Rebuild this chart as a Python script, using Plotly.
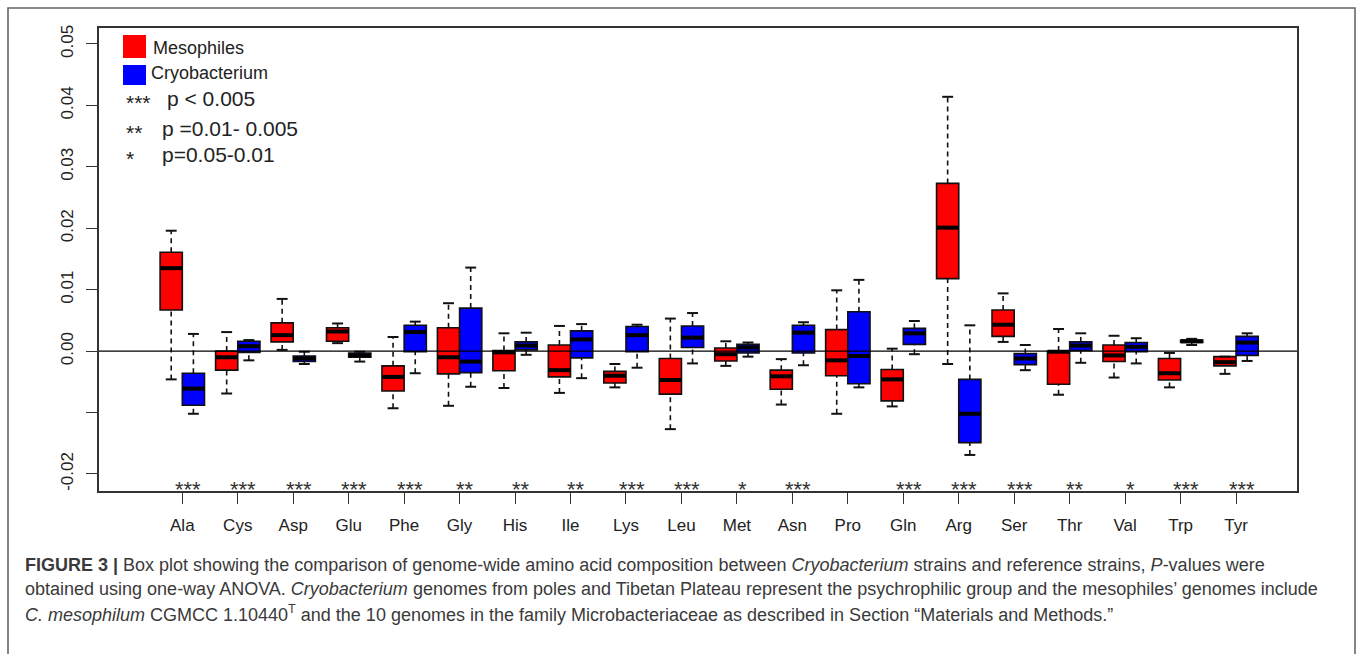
import plotly.graph_objects as go

# Amino acids on the x axis
amino_acids = ["Ala", "Cys", "Asp", "Glu", "Phe", "Gly", "His", "Ile", "Lys", "Leu",
               "Met", "Asn", "Pro", "Gln", "Arg", "Ser", "Thr", "Val", "Trp", "Tyr"]

# Mesophiles: whisker ends, quartiles and medians
meso_low = [-0.0046, -0.0069, 0.0002, 0.0013, -0.0093, -0.0089, -0.0060, -0.0068, -0.0059, -0.0127,
            -0.0024, -0.0087, -0.0102, -0.0090, -0.0021, 0.0015, -0.0071, -0.0043, -0.0059, -0.0037]
meso_q1 = [0.0067, -0.0031, 0.0015, 0.0016, -0.0065, -0.0037, -0.0032, -0.0042, -0.0052, -0.0070,
           -0.0016, -0.0062, -0.0040, -0.0081, 0.0118, 0.0024, -0.0054, -0.0017, -0.0047, -0.0024]
meso_med = [0.0135, -0.0010, 0.0026, 0.0032, -0.0042, -0.0010, -0.0002, -0.0031, -0.0040, -0.0047,
            -0.0005, -0.0041, -0.0015, -0.0046, 0.0201, 0.0043, -0.0001, -0.0007, -0.0036, -0.0018]
meso_q3 = [0.0161, 0.0000, 0.0046, 0.0038, -0.0024, 0.0038, 0.0001, 0.0010, -0.0033, -0.0012,
           0.0005, -0.0031, 0.0035, -0.0030, 0.0273, 0.0067, 0.0000, 0.0010, -0.0012, -0.0009]
meso_high = [0.0196, 0.0031, 0.0085, 0.0045, 0.0023, 0.0078, 0.0029, 0.0041, -0.0021, 0.0053,
             0.0016, -0.0013, 0.0099, 0.0004, 0.0414, 0.0094, 0.0036, 0.0025, -0.0003, -0.0009]

# Cryobacterium: whisker ends, quartiles and medians
cryo_low = [-0.0102, -0.0015, -0.0021, -0.0017, -0.0036, -0.0058, -0.0006, -0.0044, -0.0027, -0.0020,
            -0.0009, -0.0023, -0.0059, -0.0005, -0.0169, -0.0031, -0.0019, -0.0020, 0.0010, -0.0016]
cryo_q1 = [-0.0088, -0.0002, -0.0017, -0.0010, -0.0001, -0.0035, 0.0002, -0.0011, -0.0001, 0.0006,
           -0.0003, -0.0003, -0.0053, 0.0011, -0.0149, -0.0022, 0.0001, -0.0001, 0.0014, -0.0007]
cryo_med = [-0.0061, 0.0008, -0.0012, -0.0007, 0.0031, -0.0017, 0.0009, 0.0019, 0.0026, 0.0022,
            0.0006, 0.0030, -0.0008, 0.0029, -0.0102, -0.0012, 0.0009, 0.0007, 0.0016, 0.0014]
cryo_q3 = [-0.0036, 0.0016, -0.0008, -0.0003, 0.0042, 0.0070, 0.0015, 0.0033, 0.0040, 0.0041,
           0.0011, 0.0042, 0.0064, 0.0037, -0.0046, -0.0004, 0.0015, 0.0014, 0.0018, 0.0024]
cryo_high = [0.0028, 0.0018, -0.0001, -0.0001, 0.0048, 0.0136, 0.0030, 0.0044, 0.0043, 0.0062,
             0.0014, 0.0047, 0.0116, 0.0049, 0.0042, 0.0010, 0.0029, 0.0021, 0.0020, 0.0029]

# One-way ANOVA significance marks
significance = ["***", "***", "***", "***", "***", "**", "**", "**", "***", "***",
                "*", "***", "", "***", "***", "***", "**", "*", "***", "***"]

# labelled y ticks, plus the unlabelled tick between 0.00 and -0.02
y_tick_values = [0.05, 0.04, 0.03, 0.02, 0.01, 0.00, -0.02]
y_tick_labels = ["0.05", "0.04", "0.03", "0.02", "0.01", "0.00", "-0.02"]
y_unlabelled_ticks = [-0.01]

W, H = 1357, 654
L, R, T, B = 99, 1297, 28, 491          # plot frame in pixels
Y_RANGE = [-0.02277, 0.05260]
X_RANGE = [-1.502, 20.099]
OFFSET = 0.2
BOX_W = 0.4
FONT = "Liberation Sans, Arial, sans-serif"


def xp(px):
    return (px - L) / (R - L)


def yp(py):
    return (B - py) / (B - T)


def yval(py):
    return Y_RANGE[0] + (B - py) / (B - T) * (Y_RANGE[1] - Y_RANGE[0])


fig = go.Figure()

groups = [
    ("Mesophiles", -OFFSET, "#ff0000", meso_low, meso_q1, meso_med, meso_q3, meso_high),
    ("Cryobacterium", OFFSET, "#0000ff", cryo_low, cryo_q1, cryo_med, cryo_q3, cryo_high),
]

for name, off, color, low, q1, med, q3, high in groups:
    pos = [i + off for i in range(len(amino_acids))]

    # dashed whiskers
    wx, wy = [], []
    for p, lo, a, b, hi in zip(pos, low, q1, q3, high):
        wx += [p, p, None, p, p, None]
        wy += [b, hi, None, lo, a, None]
    fig.add_trace(go.Scatter(x=wx, y=wy, mode="lines", showlegend=False, hoverinfo="skip",
                             line=dict(color="#111111", width=1.6, dash="5px,4px")))
    # whisker caps (line-ew length is 1.4 x marker size)
    fig.add_trace(go.Scatter(x=pos + pos, y=low + high, mode="markers", showlegend=False,
                             hoverinfo="skip",
                             marker=dict(symbol="line-ew", size=7.8,
                                         line=dict(color="#111111", width=2))))
    # boxes
    fig.add_trace(go.Box(x=pos, q1=q1, median=med, q3=q3, lowerfence=q1, upperfence=q3,
                         name=name, width=BOX_W, whiskerwidth=0, fillcolor=color,
                         line=dict(color="#111111", width=1.6), showlegend=False,
                         boxpoints=False))
    # bold medians
    fig.add_trace(go.Scatter(x=pos, y=med, mode="markers", showlegend=False, hoverinfo="skip",
                             marker=dict(symbol="line-ew", size=15.4,
                                         line=dict(color="#000000", width=4))))

# zero reference line
fig.add_shape(type="line", xref="paper", yref="y", x0=0, x1=1, y0=0, y1=0,
              line=dict(color="#000000", width=1.4), layer="above")

# significance stars
for i, s in enumerate(significance):
    if s:
        fig.add_annotation(x=i + 0.1, y=yval(489), xref="x", yref="y", text=s,
                           showarrow=False, font=dict(family=FONT, size=22, color="#333333"),
                           xanchor="center", yanchor="middle")

# legend block
fig.add_shape(type="rect", xref="paper", yref="paper", x0=xp(123), x1=xp(146),
              y0=yp(35), y1=yp(58), fillcolor="#ff0000", line=dict(width=0))
fig.add_shape(type="rect", xref="paper", yref="paper", x0=xp(123), x1=xp(146),
              y0=yp(65), y1=yp(85), fillcolor="#0000ff", line=dict(width=0))
legend_items = [
    ("Mesophiles", 151, 48, 18),
    ("Cryobacterium", 149, 73, 18),
    ("***", 124, 102, 21),
    ("p < 0.005", 165, 98, 21),
    ("**", 124, 132, 21),
    ("p =0.01- 0.005", 160, 128, 21),
    ("*", 124, 158, 21),
    ("p=0.05-0.01", 160, 155, 21),
]
for txt, x0, yc, size in legend_items:
    fig.add_annotation(x=xp(x0), y=yp(yc), xref="paper", yref="paper", text=txt,
                       showarrow=False, xanchor="left", yanchor="middle",
                       font=dict(family=FONT, size=size, color="#222222"))

# outer figure border
fig.add_shape(type="path", xref="paper", yref="paper",
              path=f"M {xp(8)},{yp(700)} L {xp(8)},{yp(8)} L {xp(1355)},{yp(8)} L {xp(1355)},{yp(700)}",
              line=dict(color="#666666", width=1.6))

# caption
caption_lines = [
    "<b>FIGURE 3 |</b> Box plot showing the comparison of genome-wide amino acid composition "
    "between <i>Cryobacterium</i> strains and reference strains, <i>P</i>-values were",
    "obtained using one-way ANOVA. <i>Cryobacterium</i> genomes from poles and Tibetan Plateau "
    "represent the psychrophilic group and the mesophiles’ genomes include",
    "<i>C. mesophilum</i> CGMCC 1.10440<sup>T</sup> and the 10 genomes in the family "
    "Microbacteriaceae as described in Section “Materials and Methods.”",
]
for k, line in enumerate(caption_lines):
    fig.add_annotation(x=xp(23), y=yp(565 + 24 * k), xref="paper", yref="paper", text=line,
                       showarrow=False, xanchor="left", yanchor="middle",
                       font=dict(family=FONT, size=18, color="#3a3a3a"))

fig.update_layout(
    width=W, height=H,
    margin=dict(l=L, r=W - R, t=T, b=H - B, pad=0),
    plot_bgcolor="white", paper_bgcolor="white",
    showlegend=False,
    xaxis=dict(range=X_RANGE, tickmode="array", tickvals=list(range(len(amino_acids))),
               ticktext=amino_acids, ticks="outside", ticklen=11, tickwidth=1.4,
               tickcolor="#333333", showline=True, mirror=True, linecolor="#333333",
               linewidth=1.6, showgrid=False, zeroline=False, ticklabelstandoff=7,
               tickfont=dict(family=FONT, size=17, color="#222222")),
    yaxis=dict(range=Y_RANGE, tickmode="array", tickvals=y_tick_values, ticktext=y_tick_labels,
               ticks="outside", ticklen=11, tickwidth=1.4, tickcolor="#333333",
               showline=True, mirror=True, linecolor="#333333", linewidth=1.6,
               showgrid=False, zeroline=False, tickangle=-90, ticklabelstandoff=6,
               tickfont=dict(family=FONT, size=17, color="#222222"),
               minor=dict(tickmode="array", tickvals=y_unlabelled_ticks, ticks="outside",
                          ticklen=11, tickwidth=1.4, tickcolor="#333333", showgrid=False)),
)

fig.write_html("out.html")
